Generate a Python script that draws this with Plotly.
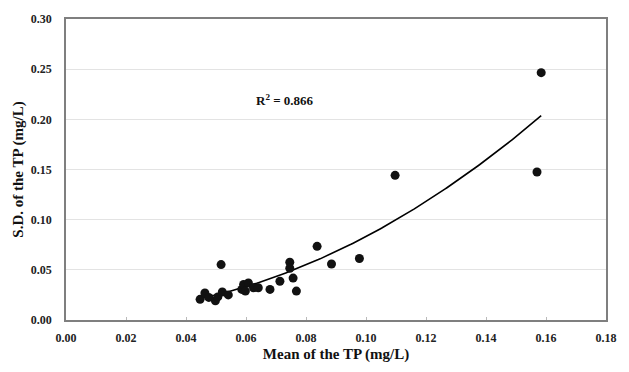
import numpy as np
import plotly.graph_objects as go

# Mean TP (mg/L) and S.D. of TP (mg/L)
mean_tp = [0.0447, 0.0463, 0.0476, 0.0498, 0.0506, 0.0521, 0.0541, 0.0517,
           0.0586, 0.0592, 0.0608, 0.0625, 0.0641, 0.0598, 0.0680, 0.0713,
           0.0746, 0.0746, 0.0757, 0.0768, 0.0837, 0.0885, 0.0978, 0.1097,
           0.1570, 0.1584]
sd_tp = [0.0206, 0.0269, 0.0225, 0.0191, 0.0230, 0.0279, 0.0250, 0.0552,
         0.0305, 0.0354, 0.0369, 0.0321, 0.0321, 0.0288, 0.0305, 0.0386,
         0.0576, 0.0516, 0.0418, 0.0288, 0.0734, 0.0558, 0.0613, 0.1442,
         0.1475, 0.2465]
r2_label = "R<sup>2</sup> = 0.866"
x_ticks = [0.00, 0.02, 0.04, 0.06, 0.08, 0.10, 0.12, 0.14, 0.16, 0.18]
y_ticks = [0.00, 0.05, 0.10, 0.15, 0.20, 0.25, 0.30]

# second-order polynomial trendline fitted to the data
coef = np.polyfit(mean_tp, sd_tp, 2)
xf = np.linspace(min(mean_tp), max(mean_tp), 200)
yf = np.polyval(coef, xf)

FONT = "Liberation Serif"

fig = go.Figure()
fig.add_trace(go.Scatter(x=xf, y=yf, mode="lines",
                         line=dict(color="black", width=1.6),
                         hoverinfo="skip", showlegend=False))
fig.add_trace(go.Scatter(x=mean_tp, y=sd_tp, mode="markers",
                         marker=dict(color="#111111", size=9),
                         showlegend=False))

fig.add_annotation(x=0.0729, y=0.219, text="<b>" + r2_label + "</b>",
                   showarrow=False, font=dict(family=FONT, size=13, color="#111"))

axis_common = dict(showline=True, linecolor="#7f7f7f", linewidth=1.5, mirror=True,
                   zeroline=False,
                   tickfont=dict(family=FONT, size=12, color="#222", weight="bold"))

fig.update_xaxes(range=[0, 0.18], tickvals=x_ticks,
                 ticktext=[f"{v:.2f}" for v in x_ticks],
                 showgrid=False, ticks="inside", ticklen=3, tickcolor="#bbbbbb",
                 ticklabelstandoff=6,
                 title=dict(text="<b>Mean of the TP (mg/L)</b>", standoff=4,
                            font=dict(family=FONT, size=15, color="#111")),
                 **axis_common)
fig.update_yaxes(range=[0, 0.30], tickvals=y_ticks,
                 ticktext=[f"{v:.2f}" for v in y_ticks],
                 showgrid=True, gridcolor="#e3e3e3", gridwidth=1.3,
                 ticks="", ticklabelstandoff=10,
                 title=dict(text="<b>S.D. of the TP (mg/L)</b>", standoff=4,
                            font=dict(family=FONT, size=15, color="#111")),
                 **axis_common)

fig.update_layout(width=629, height=372,
                  margin=dict(l=66, r=17, t=12, b=52),
                  plot_bgcolor="white", paper_bgcolor="white")

fig.write_html("out.html")
